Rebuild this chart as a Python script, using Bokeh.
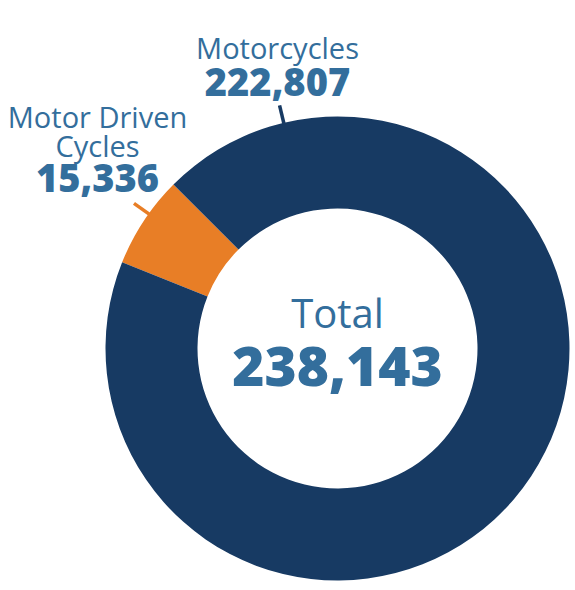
import math
from bokeh.plotting import figure
from bokeh.models import Range1d, ColumnDataSource
from bokeh.core.properties import value
from bokeh.embed import file_html
from bokeh.resources import INLINE

# ---- data ----
categories = ["Motor Driven Cycles", "Motorcycles"]
counts = [15336, 222807]
label_lines = [["Motor Driven", "Cycles"], ["Motorcycles"]]
value_labels = ["15,336", "222,807"]
total_label = "Total"
total_value = "238,143"
colors = ["#e87e26", "#173a63"]

TEXT = "#336e9c"
FONT = "Open Sans"
BOLD_FONT = "Open Sans ExtraBold, Open Sans"

W, H = 575, 590
p = figure(width=W, height=H, output_backend="svg", toolbar_location=None,
           x_range=Range1d(0, W), y_range=Range1d(590 - H, 590),
           min_border=0)
p.axis.visible = False
p.grid.visible = False
p.outline_line_color = None
p.background_fill_color = "white"
p.border_fill_color = "white"

def Y(y):  # image pixel -> data y
    return 590 - y

cx, cy = 337, Y(348)
r_out, r_in = 232, 140

total = sum(counts)
start0 = math.radians(135)
starts, ends = [], []
a = start0
for c in counts:
    starts.append(a)
    a += 2 * math.pi * c / total
    ends.append(a)

src = ColumnDataSource(dict(x=[cx] * len(counts), y=[cy] * len(counts),
                            s=starts, e=ends, color=colors))
p.annular_wedge(x="x", y="y", inner_radius=r_in, outer_radius=r_out,
                start_angle="s", end_angle="e", color="color",
                line_color=None, source=src)

# leader lines
leader_angles = [math.radians(144.5), math.radians(103.4)]
for ang, col in zip(leader_angles, colors):
    x0 = cx + (r_out - 2) * math.cos(ang)
    y0 = cy + (r_out - 2) * math.sin(ang)
    x1 = cx + (r_out + 18) * math.cos(ang)
    y1 = cy + (r_out + 18) * math.sin(ang)
    p.line([x0, x1], [y0, y1], line_color=col, line_width=3.5)

# labels (baseline y in image px; corrected for renderer offset)
def txt(x, y, s, size, bold=False):
    yy = y - 0.4 * size
    p.text(x=[x], y=[Y(yy)], text=[s],
           text_font=value(BOLD_FONT if bold else FONT),
           text_font_size=f"{size}px", text_color=TEXT,
           text_font_style="bold" if bold else "normal",
           text_align="center", text_baseline="alphabetic")

# Motor Driven Cycles
txt(97, 128, label_lines[0][0], 29)
txt(97, 157, label_lines[0][1], 29)
txt(97, 193, value_labels[0], 38, True)
# Motorcycles
txt(277, 59, label_lines[1][0], 29)
txt(277, 97, value_labels[1], 38, True)
# Total
txt(337, 328, total_label, 40)
txt(337, 388, total_value, 55, True)

open("out.html", "w").write(file_html(p, INLINE))
